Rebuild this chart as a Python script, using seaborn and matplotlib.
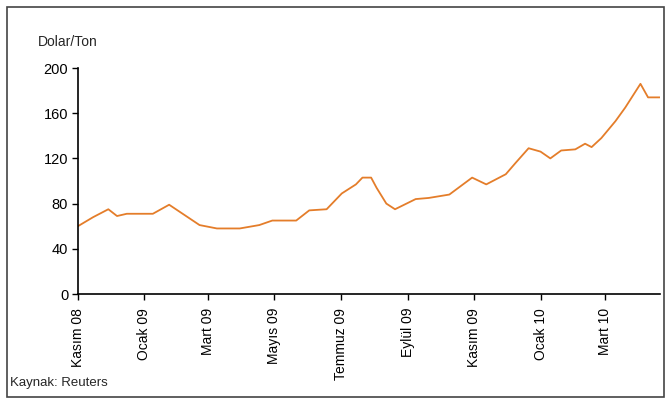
import pandas as pd
import numpy as np
import matplotlib
matplotlib.use("Agg")
import matplotlib.pyplot as plt
import matplotlib.dates as mdates
import seaborn as sns
from matplotlib.patches import Rectangle

# --- data ---
dates = ['2008-11-01', '2008-11-15', '2008-11-29', '2008-12-07', '2008-12-16',
         '2009-01-09', '2009-01-24', '2009-02-21', '2009-03-09', '2009-03-30',
         '2009-04-17', '2009-04-29', '2009-05-21', '2009-06-02', '2009-06-18',
         '2009-07-02', '2009-07-15', '2009-07-21', '2009-07-29', '2009-08-03',
         '2009-08-12', '2009-08-20', '2009-09-08', '2009-09-20', '2009-10-09',
         '2009-10-30', '2009-11-12', '2009-11-30', '2009-12-09', '2009-12-21',
         '2010-01-01', '2010-01-10', '2010-01-20', '2010-02-02', '2010-02-11',
         '2010-02-17', '2010-02-26', '2010-03-11', '2010-03-20', '2010-04-03',
         '2010-04-10', '2010-04-21']
prices = [60, 68, 75, 69, 71,
          71, 79, 61, 58, 58,
          61, 65, 65, 74, 75,
          89, 97, 103, 103, 94,
          80, 75, 84, 85, 88,
          103, 97, 106, 116, 129,
          126, 120, 127, 128, 133,
          130, 138, 153, 165, 186,
          174, 174]

tick_dates = ['2008-11-01', '2009-01-01', '2009-03-01', '2009-05-01', '2009-07-01',
              '2009-09-01', '2009-11-01', '2010-01-01', '2010-03-01']
tick_labels = ['Kasım 08', 'Ocak 09', 'Mart 09', 'Mayıs 09', 'Temmuz 09',
               'Eylül 09', 'Kasım 09', 'Ocak 10', 'Mart 10']
y_ticks = [0, 40, 80, 120, 160, 200]

df = pd.DataFrame({'date': pd.to_datetime(dates), 'price': prices})

sns.set_style('white')
plt.rcParams['font.family'] = ['Liberation Sans', 'DejaVu Sans']

fig = plt.figure(figsize=(6.66, 4.0), dpi=100)
ax = fig.add_axes([0.117, 0.265, 0.874, 0.565])

sns.lineplot(data=df, x='date', y='price', color='#E47D2A', linewidth=1.3, ax=ax)

ax.set_ylim(0, 200)
ax.set_xlim(pd.Timestamp('2008-11-01'), pd.Timestamp('2010-04-21'))
ax.set_yticks(y_ticks)
ax.set_yticklabels([str(v) for v in y_ticks], fontsize=10.5)
ax.set_xticks(pd.to_datetime(tick_dates))
ax.set_xticklabels(tick_labels, rotation=90, fontsize=10, va='top', ha='center')
ax.set_xlabel('')
ax.set_ylabel('')

for s in ['top', 'right']:
    ax.spines[s].set_visible(False)
for s in ['left', 'bottom']:
    ax.spines[s].set_color('black')
    ax.spines[s].set_linewidth(1.2)
ax.tick_params(axis='y', direction='out', length=4, width=1, color='black',
               left=True, pad=3, labelcolor='black')
ax.tick_params(axis='x', direction='out', length=4, width=1, color='black',
               bottom=True, pad=6, labelcolor='black')

# titles and source
fig.text(38 / 666, 1 - 42 / 400, 'Dolar/Ton', fontsize=10, va='center', ha='left')
fig.text(10 / 666, 1 - 383 / 400, 'Kaynak: Reuters', fontsize=9.5, va='center', ha='left')

# outer frame
fig.patches.append(Rectangle((7 / 666, 3 / 400), 657 / 666, 390 / 400,
                             transform=fig.transFigure, fill=False,
                             edgecolor='#444444', linewidth=1.2))

fig.savefig('out.png', dpi=100)
